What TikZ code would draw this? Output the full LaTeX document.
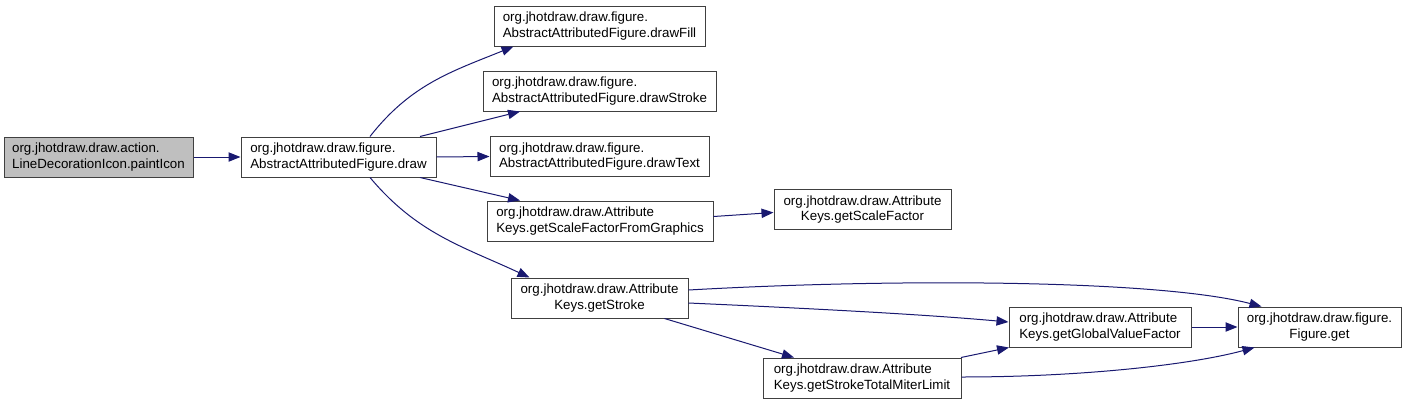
\documentclass[tikz,border=0pt]{standalone}
\usepackage{fontspec}
\setmainfont{Liberation Sans}
\usepackage{tikz}
\usetikzlibrary{
  arrows.meta,
  positioning,
  calc
}
\definecolor{edgeblue}{HTML}{191970}
\definecolor{rootgrey}{HTML}{BFBFBF}
\tikzset{
  block/.style={
    rectangle, draw=black!75, line width=0.75pt,
    minimum height=30pt, inner sep=2pt,
    align=left, font=\fontsize{10}{11.5}\selectfont
  },
  cblock/.style={
    block, align=center
  },
  rootblock/.style={
    block, fill=rootgrey
  },
  arrow/.style={-{Triangle[length=9pt, width=7pt]}, draw=edgeblue,
    line width=0.75pt}
}

\begin{document}
\begin{tikzpicture}[x=0.75pt, y=-0.75pt]
\useasboundingbox (0,0) rectangle (1407,404);

% ── caller and called function ──────────────────────────────────────────────
\node[rootblock, minimum width=141.75pt] (paint) at (98.5,157)
  {org.jhotdraw.draw.action.\\LineDecorationIcon.paintIcon};
\node[block, minimum width=146.25pt] (draw) at (338.5,157)
  {org.jhotdraw.draw.figure.\\AbstractAttributedFigure.draw};

% ── first level of calls ────────────────────────────────────────────────────
\node[block, minimum width=158.25pt] (fill) at (599.5,26)
  {org.jhotdraw.draw.figure.\\AbstractAttributedFigure.drawFill};
\node[block, minimum width=174.75pt] (stroke) at (599.5,91)
  {org.jhotdraw.draw.figure.\\AbstractAttributedFigure.drawStroke};
\node[block, minimum width=164.25pt] (text) at (599.5,156.5)
  {org.jhotdraw.draw.figure.\\AbstractAttributedFigure.drawText};
\node[block, minimum width=169.5pt] (sfgraphics) at (600,221)
  {org.jhotdraw.draw.Attribute\\Keys.getScaleFactorFromGraphics};
\node[cblock, minimum width=132.75pt] (getstroke) at (599.5,298)
  {org.jhotdraw.draw.Attribute\\Keys.getStroke};

% ── deeper calls ────────────────────────────────────────────────────────────
\node[cblock, minimum width=132.75pt] (scalefactor) at (862.5,209.5)
  {org.jhotdraw.draw.Attribute\\Keys.getScaleFactor};
\node[block, minimum width=148.5pt] (miter) at (862,378)
  {org.jhotdraw.draw.Attribute\\Keys.getStrokeTotalMiterLimit};
\node[block, minimum width=136.5pt] (globalvf) at (1100,327)
  {org.jhotdraw.draw.Attribute\\Keys.getGlobalValueFactor};
\node[cblock, minimum width=122.25pt] (figget) at (1319.5,327)
  {org.jhotdraw.draw.figure.\\Figure.get};

% ── calls ───────────────────────────────────────────────────────────────────
\draw[arrow] (paint) -- (draw);
\draw[arrow] ($(draw.north)+(31.5,0)$) to[out=52,in=202] ($(fill.south)+(-86,0)$);
\draw[arrow] ($(draw.north)+(81.5,0)$) -- ($(stroke.south)+(-79.5,0)$);
\draw[arrow] (draw.east) -- (text.west);
\draw[arrow] ($(draw.south)+(81.5,0)$) -- ($(sfgraphics.north)+(-80,0)$);
\draw[arrow] ($(draw.south)+(31.5,0)$) to[out=-50,in=155] ($(getstroke.north)+(-70,0)$);

\draw[arrow] ($(sfgraphics.east)+(0,-4.5)$) -- ($(scalefactor.west)+(0,3)$);

\draw[arrow] ($(getstroke.east)+(0,-8)$) .. controls (900,278) and (1160,280)
  .. ($(figget.north)+(-58,0)$);
\draw[arrow] ($(getstroke.east)+(0,5)$) .. controls (800,308) and (920,314)
  .. ($(globalvf.west)+(0,-5)$);
\draw[arrow] ($(getstroke.south)+(65,0)$) -- ($(miter.north)+(-68,0)$);

\draw[arrow] ($(miter.north)+(99,0)$) -- ($(globalvf.south)+(-91,0)$);
\draw[arrow] ($(miter.east)+(0,-1)$) .. controls (1080,377) and (1190,365)
  .. ($(figget.south)+(-65,0)$);
\draw[arrow] (globalvf) -- (figget);

\end{tikzpicture}
\end{document}
